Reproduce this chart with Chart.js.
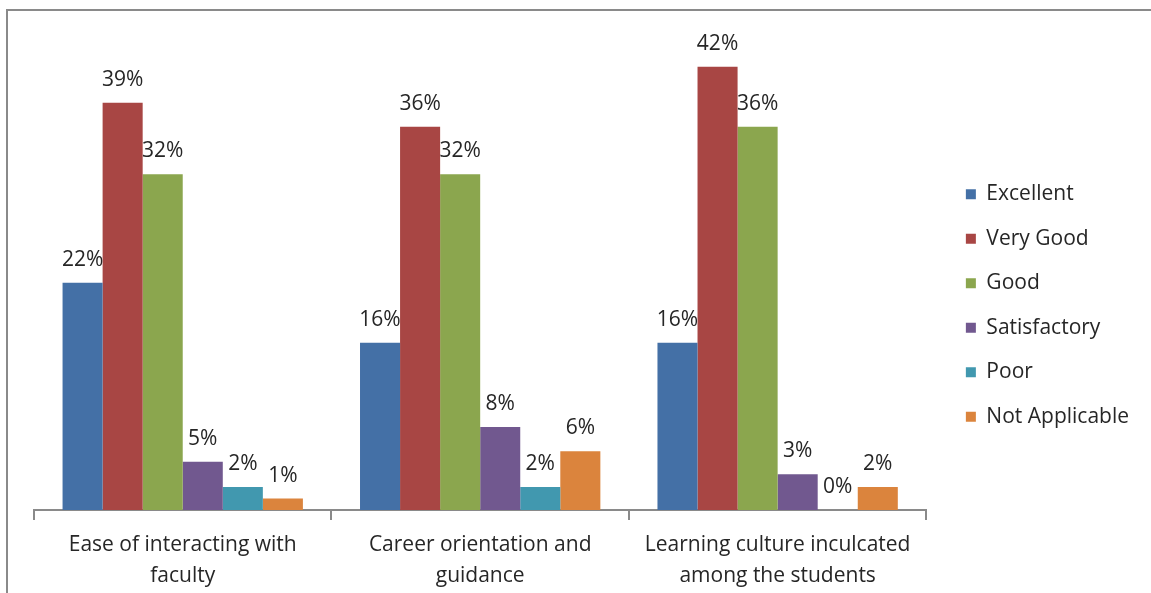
<!DOCTYPE html>
<html>
<head>
<meta charset="utf-8">
<script src="https://cdn.jsdelivr.net/npm/chart.js@4.4.0/dist/chart.umd.min.js"></script>
<style>
html, body { margin: 0; padding: 0; background: #fff; overflow: hidden; }
#marco { position: absolute; left: 6px; top: 9px; width: 1170px; height: 620px; border: 2px solid #8a8a8a; }
#caja { position: absolute; left: 0; top: 0; width: 1151px; height: 606px; }
</style>
</head>
<body>
<div id="marco"></div>
<div id="caja"><canvas id="barChart"></canvas></div>
<script>
// Datos del sistema
const categorias = [
    ["Ease of interacting with", "faculty"],
    ["Career orientation and", "guidance"],
    ["Learning culture inculcated", "among the students"]
];
const series = ["Excellent", "Very Good", "Good", "Satisfactory", "Poor", "Not Applicable"];

const excellent = [21.6, 15.9, 15.9];
const veryGood = [38.7, 36.4, 42.1];
const good = [31.9, 31.9, 36.4];
const satisfactory = [4.6, 7.9, 3.4];
const poor = [2.2, 2.2, 0];
const notApplicable = [1.1, 5.6, 2.2];

const valores = [excellent, veryGood, good, satisfactory, poor, notApplicable];
const colores = ["#4470a6", "#a84644", "#8ba64e", "#71588f", "#4198af", "#db843d"];

const fuente = "'Open Sans', sans-serif";

// ==============================
// ETIQUETAS DE DATOS
// ==============================

const etiquetas = {
    id: "etiquetas",
    afterDatasetsDraw(chart) {
        const ctx = chart.ctx;
        ctx.save();
        ctx.font = "21px " + fuente;
        ctx.fillStyle = "#262626";
        ctx.textAlign = "center";
        ctx.textBaseline = "alphabetic";
        chart.data.datasets.forEach((ds, i) => {
            chart.getDatasetMeta(i).data.forEach((bar, j) => {
                ctx.fillText(Math.round(ds.data[j]) + "%", bar.x, bar.y - 17);
            });
        });
        ctx.restore();
    }
};

// ==============================
// GRÁFICO DE BARRAS
// ==============================

const barChart = new Chart(document.getElementById("barChart"), {

    type: "bar",

    data: {
        labels: categorias,
        datasets: series.map((nombre, i) => ({
            label: nombre,
            data: valores[i],
            backgroundColor: colores[i],
            barPercentage: 1,
            categoryPercentage: 0.808
        }))
    },

    options: {
        responsive: true,
        maintainAspectRatio: false,
        animation: false,
        layout: {
            padding: { left: 34, top: 10, right: 12, bottom: 5 }
        },
        scales: {
            x: {
                border: { color: "#8a8a8a", width: 2 },
                grid: {
                    drawOnChartArea: false,
                    drawTicks: true,
                    tickLength: 10,
                    color: "#8a8a8a",
                    lineWidth: 2
                },
                ticks: {
                    color: "#262626",
                    padding: 10,
                    font: { family: fuente, size: 21, lineHeight: 1.45 }
                }
            },
            y: {
                position: "right",
                min: 0,
                max: 47.5,
                ticks: { display: false },
                grid: { display: false },
                border: { display: false },
                afterFit(scale) { scale.width = 16; }
            }
        },
        plugins: {
            legend: {
                position: "right",
                labels: {
                    boxWidth: 10,
                    boxHeight: 10,
                    padding: 23.5,
                    color: "#262626",
                    font: { family: fuente, size: 21 }
                }
            },
            tooltip: { enabled: false }
        }
    },

    plugins: [etiquetas]
});
</script>
</body>
</html>
